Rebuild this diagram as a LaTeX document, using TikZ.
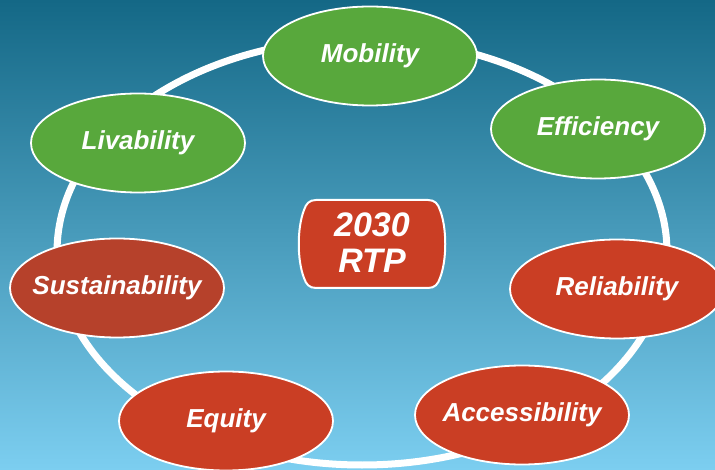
\documentclass[tikz,border=0pt]{standalone}
\usepackage{fontspec}
\setmainfont{Liberation Sans}
\usetikzlibrary{shapes.geometric}
\definecolor{bgtop}{RGB}{20,104,134}
\definecolor{bgbot}{RGB}{124,206,240}
\definecolor{ovgreen}{RGB}{88,168,60}
\definecolor{ovred}{RGB}{202,62,36}
\definecolor{ovdark}{RGB}{182,65,43}
\tikzset{
  oval/.style={ellipse, draw=white, line width=1.8pt, minimum width=214pt, minimum height=99pt,
    inner xsep=-50pt, inner ysep=0pt, text=white, font=\fontsize{26}{30}\selectfont\bfseries\itshape},
  goodoval/.style={oval, fill=ovgreen},
  redoval/.style={oval, fill=ovred},
  darkoval/.style={oval, fill=ovdark},
  ringline/.style={draw=white, line width=7pt},
  boxline/.style={fill=ovred, draw=white, line width=2pt},
  boxtext/.style={text=white, align=center, inner sep=0pt,
    font=\fontsize{34}{36}\selectfont\bfseries\itshape}
}
\begin{document}
\begin{tikzpicture}[x=1pt,y=-1pt]
\useasboundingbox (0,0) rectangle (715,470);
\clip (0,0) rectangle (715,470);
\shade[top color=bgtop,bottom color=bgbot] (0,0) rectangle (715,470);
\draw[ringline] (362,252) ellipse [x radius=305, y radius=213];
\node[goodoval] (mobility) at (370,56) {Mobility};
\node[goodoval] (efficiency) at (598,129) {Efficiency};
\node[goodoval] (livability) at (138,143) {Livability};
\node[darkoval] (sustainability) at (117,288) {Sustainability};
\node[redoval] (reliability) at (617,289) {Reliability};
\node[redoval] (accessibility) at (522,415) {Accessibility};
\node[redoval] (equity) at (226,421) {Equity};
\path[boxline] (316,200) -- (428,200)
  .. controls (435,200) and (438,204) .. (440,210)
  .. controls (447,228) and (447,260) .. (440,278)
  .. controls (438,284) and (435,288) .. (428,288)
  -- (316,288)
  .. controls (309,288) and (306,284) .. (304,278)
  .. controls (297,260) and (297,228) .. (304,210)
  .. controls (306,204) and (309,200) .. (316,200) -- cycle;
\node[boxtext] (rtp) at (372,243) {2030\\RTP};
\end{tikzpicture}
\end{document}
